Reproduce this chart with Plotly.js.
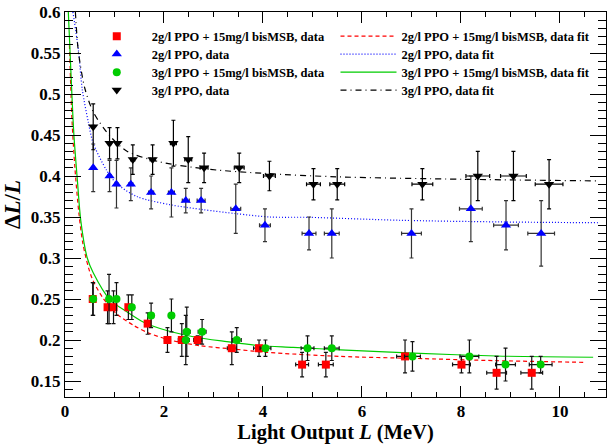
<!DOCTYPE html>
<html>
<head>
<meta charset="utf-8">
<script src="https://cdn.plot.ly/plotly-3.0.1.min.js"></script>
<style>html,body{margin:0;padding:0;background:#fff;}#chart{width:611px;height:444px;}</style>
</head>
<body>
<div id="chart"></div>
<script>
// ---- data ----
// 2g/l PPO + 15mg/l bisMSB (red squares)
const redX    = [0.56, 0.86, 0.98, 1.28, 1.67, 2.07, 2.36, 2.68, 3.37, 3.92, 4.79, 5.27, 6.87, 8.01, 8.72, 9.43];
const redY    = [0.25, 0.24, 0.24, 0.24, 0.22, 0.20, 0.20, 0.20, 0.19, 0.19, 0.17, 0.17, 0.18, 0.17, 0.16, 0.16];
const redYErr = [0.02, 0.02, 0.02, 0.015, 0.013, 0.015, 0.02, 0.005, 0.02, 0.01, 0.015, 0.015, 0.02, 0.01, 0.02, 0.02];
const redXErr = [0.02, 0.02, 0.03, 0.04, 0.05, 0.06, 0.07, 0.08, 0.09, 0.11, 0.13, 0.15, 0.17, 0.18, 0.20, 0.22];
// 2g/l PPO (blue triangles)
const blueX    = [0.57, 0.90, 1.04, 1.33, 1.74, 2.15, 2.44, 2.75, 3.45, 4.04, 4.93, 5.39, 7.00, 8.20, 8.91, 9.62];
const blueY    = [0.41, 0.40, 0.39, 0.39, 0.38, 0.38, 0.37, 0.37, 0.36, 0.34, 0.33, 0.33, 0.33, 0.36, 0.34, 0.33];
const blueYErr = [0.029, 0.019, 0.029, 0.02, 0.02, 0.03, 0.015, 0.015, 0.03, 0.02, 0.02, 0.03, 0.03, 0.04, 0.03, 0.04];
const blueXErr = [0.02, 0.03, 0.03, 0.04, 0.05, 0.06, 0.07, 0.08, 0.10, 0.11, 0.14, 0.15, 0.20, 0.23, 0.25, 0.27];
// 3g/l PPO + 15mg/l bisMSB (green circles)
const greenX    = [0.57, 0.89, 1.04, 1.35, 1.74, 2.15, 2.44, 2.46, 2.77, 3.47, 4.05, 4.90, 5.39, 7.02, 8.17, 8.90, 9.61];
const greenY    = [0.25, 0.25, 0.25, 0.24, 0.23, 0.23, 0.20, 0.21, 0.21, 0.20, 0.19, 0.19, 0.19, 0.18, 0.18, 0.17, 0.17];
const greenYErr = [0.02, 0.03, 0.02, 0.015, 0.015, 0.02, 0.03, 0.03, 0.015, 0.015, 0.01, 0.015, 0.015, 0.018, 0.02, 0.02, 0.01];
const greenXErr = [0.02, 0.02, 0.03, 0.04, 0.05, 0.06, 0.07, 0.07, 0.08, 0.09, 0.11, 0.13, 0.15, 0.16, 0.19, 0.20, 0.23];
// 3g/l PPO (black down-triangles)
const blackX    = [0.57, 0.90, 1.06, 1.37, 1.77, 2.19, 2.49, 2.81, 3.52, 4.13, 5.02, 5.50, 7.22, 8.34, 9.06, 9.78];
const blackY    = [0.46, 0.44, 0.44, 0.42, 0.42, 0.44, 0.42, 0.41, 0.41, 0.40, 0.39, 0.39, 0.39, 0.40, 0.40, 0.39];
const blackYErr = [0.028, 0.019, 0.019, 0.018, 0.018, 0.028, 0.028, 0.018, 0.018, 0.018, 0.019, 0.019, 0.019, 0.03, 0.03, 0.03];
const blackXErr = [0.02, 0.03, 0.03, 0.04, 0.05, 0.06, 0.07, 0.08, 0.10, 0.12, 0.14, 0.15, 0.21, 0.24, 0.26, 0.28];

// fit curves, points
const redFitX   = [0.09, 0.14, 0.20, 0.28, 0.36, 0.48, 0.57, 0.77, 1.04, 1.38, 1.67, 2.12, 2.73, 3.40, 4.07, 5.56, 7.04, 8.72, 10.47];
const redFitY   = [0.56, 0.47, 0.41, 0.355, 0.318, 0.287, 0.272, 0.251, 0.232, 0.218, 0.209, 0.200, 0.193, 0.189, 0.185, 0.180, 0.1776, 0.1748, 0.1728];
const blueFitX  = [0.16, 0.27, 0.35, 0.47, 0.57, 0.84, 1.04, 1.45, 2.12, 2.79, 3.47, 4.14, 4.92, 6.77, 8.79, 10.8];
const blueFitY  = [0.60, 0.554, 0.505, 0.466, 0.44, 0.407, 0.391, 0.375, 0.365, 0.359, 0.354, 0.350, 0.3496, 0.346, 0.344, 0.343];
const greenFitX = [0.067, 0.135, 0.18, 0.25, 0.32, 0.45, 0.57, 0.91, 1.25, 1.58, 1.92, 2.59, 3.27, 3.94, 4.61, 5.56, 7.04, 8.72, 10.67];
const greenFitY = [0.60, 0.505, 0.45, 0.395, 0.345, 0.30, 0.282, 0.249, 0.2345, 0.222, 0.214, 0.204, 0.198, 0.193, 0.191, 0.188, 0.184, 0.1805, 0.179];
const blackFitX = [0.21, 0.27, 0.40, 0.58, 0.92, 1.26, 1.93, 2.94, 4.08, 5.49, 8.05, 10.8];
const blackFitY = [0.60, 0.552, 0.507, 0.477, 0.448, 0.430, 0.417, 0.408, 0.403, 0.399, 0.396, 0.394];

const seriesNames = [
  "2g/l PPO + 15mg/l bisMSB, data",
  "2g/l PPO, data",
  "3g/l PPO + 15mg/l bisMSB, data",
  "3g/l PPO, data"
];
const fitNames = [
  "2g/l PPO + 15mg/l bisMSB, data fit",
  "2g/l PPO, data fit",
  "3g/l PPO + 15mg/l bisMSB, data fit",
  "3g/l PPO, data fit"
];

const FONT = "Liberation Serif, Times New Roman, serif";
const RED = "#ff0000", BLUE = "#0000ff", GREEN = "#00cc00", BLACK = "#000000";

function dataTrace(x, y, ex, ey, name, sym, color, size, barColor, leg) {
  return {
    type: "scatter", mode: "markers", x: x, y: y, name: name, legend: leg,
    marker: {symbol: sym, color: color, size: size, line: {width: 0}},
    error_y: {type: "data", array: ey, visible: true, color: barColor, thickness: 1.2, width: 2},
    error_x: {type: "data", array: ex, visible: true, color: barColor, thickness: 1.2, width: 2},
    cliponaxis: true
  };
}
function fitTrace(x, y, name, color, dash, leg) {
  return {
    type: "scatter", mode: "lines", x: x, y: y, name: name, legend: leg,
    line: {color: color, width: 1.2, dash: dash, shape: "spline", smoothing: 0.8},
    hoverinfo: "skip"
  };
}

const traces = [
  fitTrace(redFitX, redFitY, fitNames[0], RED, "4px,3px", "legend5"),
  fitTrace(blueFitX, blueFitY, fitNames[1], BLUE, "1px,2px", "legend6"),
  fitTrace(greenFitX, greenFitY, fitNames[2], GREEN, "solid", "legend7"),
  fitTrace(blackFitX, blackFitY, fitNames[3], BLACK, "6px,4px,1px,4px", "legend8"),
  dataTrace(redX, redY, redXErr, redYErr, seriesNames[0], "square", RED, 8, "#111", "legend"),
  dataTrace(blueX, blueY, blueXErr, blueYErr, seriesNames[1], "triangle-up", BLUE, 9, "#333", "legend2"),
  dataTrace(greenX, greenY, greenXErr, greenYErr, seriesNames[2], "circle", GREEN, 8, "#111", "legend3"),
  dataTrace(blackX, blackY, blackXErr, blackYErr, seriesNames[3], "triangle-down", BLACK, 9, "#000", "legend4")
];

const axisCommon = {
  showgrid: false, zeroline: false, showline: true, linecolor: "black", linewidth: 1,
  mirror: "ticks", ticks: "inside", tickcolor: "black", tickwidth: 1,
  tickfont: {family: FONT, size: 17, color: "black", weight: "bold"}
};

const layout = {
  width: 611, height: 444,
  margin: {l: 65, r: 5, t: 12, b: 47},
  paper_bgcolor: "white", plot_bgcolor: "white",
  showlegend: true,
  xaxis: Object.assign({}, axisCommon, {
    range: [0, 10.93], tick0: 0, dtick: 2, ticklen: 11, ticklabelstandoff: -1,
    minor: {dtick: 0.5, ticklen: 5, ticks: "inside", tickcolor: "black", showgrid: false},
    title: {text: "Light Output <i>L</i> (MeV)", font: {family: FONT, size: 20.5, color: "black", weight: "bold"}, standoff: 10}
  }),
  yaxis: Object.assign({}, axisCommon, {
    range: [0.1305, 0.6], tick0: 0, dtick: 0.05, ticklen: 16,
    minor: {dtick: 0.01, ticklen: 8, ticks: "inside", tickcolor: "black", showgrid: false},
    title: {text: "Δ<i>L</i>/<i>L</i>", font: {family: FONT, size: 23, color: "black", weight: "bold"}, standoff: 10}
  })
};

// one legend box per entry, in a 2-column layout like the reference
const rowTops = [0.9753, 0.9286, 0.8818, 0.8351];
const legFont = {family: FONT, size: 12.5, color: "black", weight: "bold"};
const legNames = ["legend", "legend2", "legend3", "legend4", "legend5", "legend6", "legend7", "legend8"];
legNames.forEach(function (nm, i) {
  const col = i < 4 ? 0 : 1;
  layout[nm] = {
    x: col === 0 ? 0.031 : 0.5, y: rowTops[i % 4], xanchor: "left", yanchor: "top",
    bgcolor: "rgba(0,0,0,0)", borderwidth: 0, itemwidth: col === 0 ? 60 : 56,
    font: legFont
  };
});

Plotly.newPlot("chart", traces, layout, {staticPlot: true, displayModeBar: false});
</script>
</body>
</html>
